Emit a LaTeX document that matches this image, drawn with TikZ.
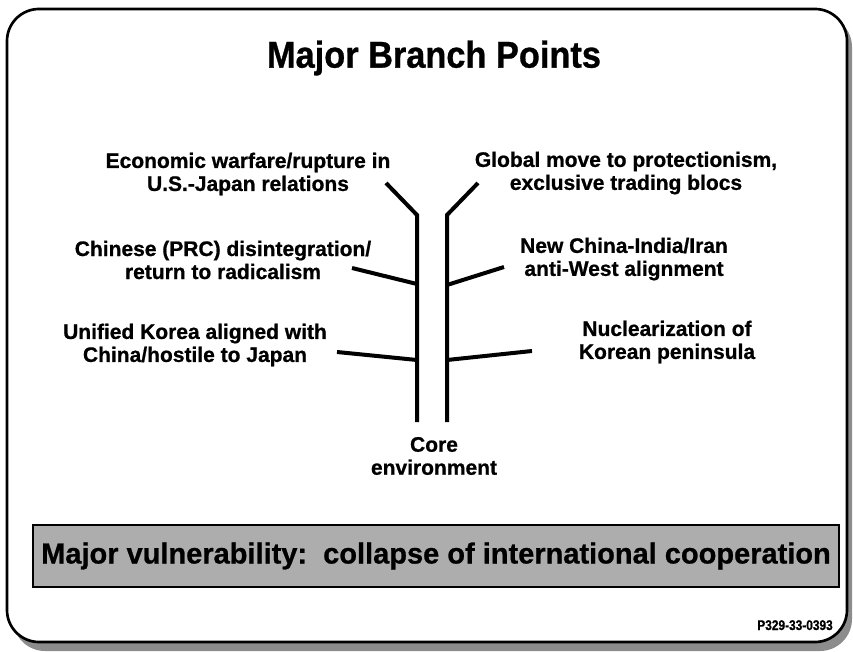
\documentclass[tikz,border=0pt]{standalone}
\usepackage{fontspec}
\setmainfont{Liberation Sans}[BoldFeatures={FakeBold=0.8}]
\newfontfamily\titlefont[FakeStretch=0.92,BoldFeatures={FakeBold=0.8}]{Liberation Sans}
\newfontfamily\codefont[FakeStretch=0.85,BoldFeatures={FakeBold=0.8}]{Liberation Sans}

\tikzset{
  branch/.style={line width=3pt},
  point text/.style={font=\bfseries\fontsize{15.75}{17.25}\selectfont, align=center, inner sep=0pt},
}

\begin{document}
\begin{tikzpicture}[x=0.75pt,y=0.75pt,yscale=-1,xscale=1]
    \useasboundingbox (0,0) rectangle (853,652);

    %Shape: Rounded Rect [shadow]
    \fill [black!45, rounded corners=24pt] (13,15) rectangle (852,651);
    %Shape: Rounded Rect [frame]
    \draw [line width=2pt, fill=white, rounded corners=24pt] (7,9) rectangle (847,642);

    % Text Node
    \node (title) at (434,58) {\titlefont\bfseries\fontsize{28}{32}\selectfont Major Branch Points};

    %Coordinates of the trunk
    \coordinate (ltop) at (386,183);
    \coordinate (lkink) at (417,215);
    \coordinate (lbot) at (417,422);
    \coordinate (rtop) at (478,183);
    \coordinate (rkink) at (447,215);
    \coordinate (rbot) at (447,422);
    \coordinate (lmid) at (417,284);
    \coordinate (rmid) at (447,285);
    \coordinate (llow) at (417,360);
    \coordinate (rlow) at (447,360);
    %Coordinates of the branch ends
    \coordinate (lmidend) at (352,268);
    \coordinate (rmidend) at (504,267);
    \coordinate (llowend) at (337,352);
    \coordinate (rlowend) at (532,351);

    %Straight Lines [trunk]
    \draw [branch] (ltop) -- (lkink) -- (lbot);
    \draw [branch] (rtop) -- (rkink) -- (rbot);
    %Straight Lines [branches]
    \draw [branch] (lmidend) -- (lmid);
    \draw [branch] (rmidend) -- (rmid);
    \draw [branch] (llowend) -- (llow);
    \draw [branch] (rlowend) -- (rlow);

    % Text Node
    \node [point text] (econ) at (248,174) {Economic warfare/rupture in\\U.S.-Japan relations};
    % Text Node
    \node [point text] (global) at (626,173) {Global move to protectionism,\\exclusive trading blocs};
    % Text Node
    \node [point text] (prc) at (223,260) {Chinese (PRC) disintegration/\\return to radicalism};
    % Text Node
    \node [point text] (iran) at (624,259) {New China-India/Iran\\anti-West alignment};
    % Text Node
    \node [point text] (korea) at (195,345) {Unified Korea aligned with\\China/hostile to Japan};
    % Text Node
    \node [point text] (nuke) at (667,342) {Nuclearization of\\Korean peninsula};
    % Text Node
    \node [point text] (core) at (434,456) {Core\\environment};

    %Shape: Rectangle
    \node [draw, line width=1.5pt, fill=black!32, minimum width=605pt, minimum height=47pt, inner sep=0pt,
           font=\bfseries\fontsize{21.75}{26}\selectfont] (vuln) at (436,556) {Major vulnerability:\ \ collapse of international cooperation};

    % Text Node
    \node [anchor=base east, inner sep=0pt] (code) at (833,630) {\codefont\bfseries\fontsize{10.5}{12}\selectfont P329-33-0393};

\end{tikzpicture}
\end{document}
